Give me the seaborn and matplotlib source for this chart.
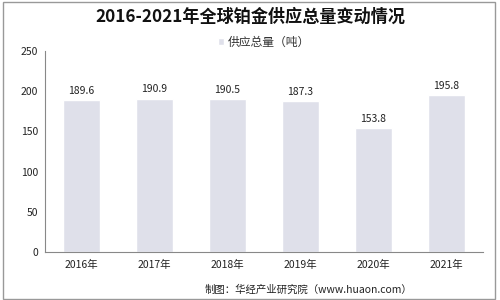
import matplotlib
matplotlib.use("Agg")
import matplotlib.pyplot as plt
import seaborn as sns
import pandas as pd
from matplotlib.patches import Rectangle

years = ["2016年", "2017年", "2018年", "2019年", "2020年", "2021年"]
supply = [189.6, 190.9, 190.5, 187.3, 153.8, 195.8]
yticks = [0, 50, 100, 150, 200, 250]
title = "2016-2021年全球铂金供应总量变动情况"
legend_label = "供应总量（吨）"
source = "制图：华经产业研究院（www.huaon.com）"

sns.set_style("white")
plt.rcParams['font.family'] = ['Noto Sans CJK SC', 'DejaVu Sans']

df = pd.DataFrame({"year": years, "supply": supply})

fig = plt.figure(figsize=(5, 3), dpi=100)
ax = fig.add_axes([0.09, 0.16, 0.876, 0.67])
bar_color = "#dfe0ea"
sns.barplot(data=df, x="year", y="supply", color=bar_color, width=0.5, ax=ax,
            saturation=1, label=legend_label)

ax.set_ylim(0, 250)
ax.set_xlim(-0.5, len(years) - 0.5)
ax.set_yticks(yticks)
ax.set_xlabel("")
ax.set_ylabel("")
for s in ["top", "right"]:
    ax.spines[s].set_visible(False)
for s in ["left", "bottom"]:
    ax.spines[s].set_color("#888888")
    ax.spines[s].set_linewidth(0.8)

ax.tick_params(axis="y", length=3, color="#888888", labelsize=7.5, labelcolor="#222222", pad=2)
ax.tick_params(axis="x", length=0, labelsize=7.5, labelcolor="#222222", pad=6)
ax.set_xticks(range(len(years)))
ax.set_xticklabels(years)
ax.set_xticks([i - 0.5 for i in range(len(years) + 1)], minor=True)
ax.tick_params(axis="x", which="minor", length=3, color="#888888")

for i, v in enumerate(supply):
    ax.text(i, v + 5, f"{v:.1f}", ha="center", va="bottom", fontsize=7.5, color="#222222")

leg = ax.legend(loc="center", bbox_to_anchor=(0.5, 1.045), frameon=False,
                fontsize=8.5, handlelength=0.5, handleheight=0.5, handletextpad=0.3)
for t in leg.get_texts():
    t.set_color("#333333")

fig.text(0.5, 0.945, title, ha="center", va="center", fontsize=12.3, fontweight="bold", color="#111111")
fig.text(0.41, 0.035, source, ha="left", va="center", fontsize=7.5, color="#222222")

fig.patches.append(Rectangle((0.005, 0.005), 0.985, 0.99, transform=fig.transFigure,
                             fill=False, edgecolor="#999999", linewidth=1))

fig.savefig("out.png", dpi=100)
